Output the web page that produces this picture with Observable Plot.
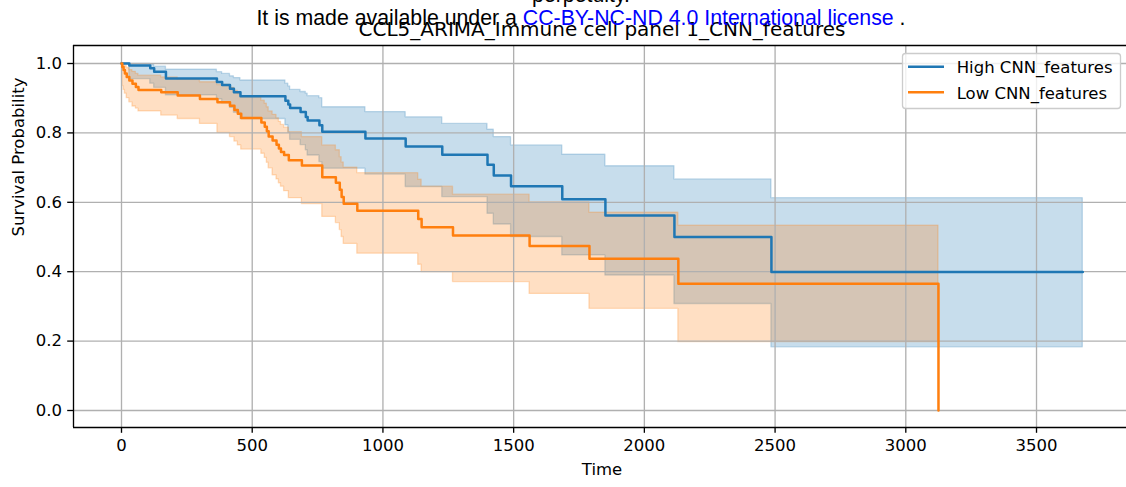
<!DOCTYPE html>
<html>
<head>
<meta charset="utf-8">
<script src="https://cdn.jsdelivr.net/npm/d3@7"></script>
<script src="https://cdn.jsdelivr.net/npm/@observablehq/plot@0.6"></script>
<style>
  body { margin: 0; background: #fff; }
  #wrap { position: relative; width: 1126px; height: 487px; overflow: hidden; background: #fff; }
  #wrap svg { display: block; }
  .wm { position: absolute; left: 0; width: 1162px; text-align: center; white-space: nowrap;
        font-family: "Liberation Sans", Arial, sans-serif; font-size: 21.3px; line-height: 1; color: #000; }
  .wm .lic { color: #0000ff; }
</style>
</head>
<body>
<div id="wrap">
  <div class="wm" style="top:-15px">perpetuity.</div>
  <div class="wm" style="top:8px">It is made available under a <span class="lic">CC-BY-NC-ND 4.0 International license</span> .</div>
</div>
<script>
// ---------- data ----------
const seriesNames = ["High CNN_features", "Low CNN_features"];
const seriesColors = ["#1f77b4", "#ff7f0e"];
const titleText = "CCL5_ARIMA_Immune cell panel 1_CNN_features";
const xLabel = "Time";
const yLabel = "Survival Probability";
const xTicks = [0, 500, 1000, 1500, 2000, 2500, 3000, 3500];
const yTicks = [0, 0.2, 0.4, 0.6, 0.8, 1.0];

const highTime  = [0, 30, 110, 125, 170, 365, 385, 415, 430, 455, 627, 638, 645, 685, 705, 712, 757, 768, 933, 1087, 1227, 1400, 1424, 1490, 1686, 1851, 2115, 2486, 3677];
const highSurv  = [1.0, 0.994, 0.986, 0.976, 0.957, 0.947, 0.938, 0.927, 0.917, 0.906, 0.893, 0.882, 0.872, 0.860, 0.846, 0.836, 0.822, 0.803, 0.784, 0.761, 0.737, 0.708, 0.677, 0.646, 0.609, 0.562, 0.500, 0.399, 0.399];
const highUpper = [1.0, 0.999, 0.997, 0.991, 0.982, 0.975, 0.970, 0.963, 0.958, 0.951, 0.942, 0.934, 0.924, 0.918, 0.913, 0.906, 0.900, 0.874, 0.860, 0.845, 0.826, 0.809, 0.788, 0.764, 0.737, 0.704, 0.666, 0.612, 0.612];
const highLower = [1.0, 0.955, 0.942, 0.930, 0.908, 0.897, 0.885, 0.872, 0.858, 0.840, 0.822, 0.800, 0.780, 0.765, 0.750, 0.735, 0.716, 0.697, 0.680, 0.644, 0.615, 0.567, 0.536, 0.500, 0.447, 0.389, 0.307, 0.182, 0.182];

const lowTime  = [0, 3, 8, 13, 20, 30, 42, 55, 65, 152, 215, 300, 367, 415, 432, 445, 458, 535, 548, 556, 563, 578, 593, 602, 610, 622, 640, 690, 768, 820, 835, 842, 850, 902, 1135, 1148, 1268, 1561, 1790, 2130, 3125];
const lowSurv  = [1.0, 0.990, 0.981, 0.971, 0.961, 0.951, 0.942, 0.932, 0.924, 0.917, 0.908, 0.898, 0.888, 0.878, 0.866, 0.855, 0.843, 0.830, 0.818, 0.805, 0.790, 0.778, 0.766, 0.755, 0.745, 0.736, 0.721, 0.706, 0.672, 0.656, 0.636, 0.615, 0.596, 0.576, 0.552, 0.528, 0.504, 0.474, 0.437, 0.365, 0.0];
const lowUpper = [1.0, 0.999, 0.996, 0.992, 0.987, 0.981, 0.976, 0.970, 0.965, 0.960, 0.953, 0.946, 0.938, 0.930, 0.921, 0.912, 0.903, 0.893, 0.884, 0.874, 0.862, 0.852, 0.842, 0.832, 0.823, 0.815, 0.802, 0.788, 0.764, 0.750, 0.730, 0.715, 0.700, 0.684, 0.665, 0.645, 0.622, 0.600, 0.570, 0.533, 0.533];
const lowLower = [1.0, 0.935, 0.924, 0.913, 0.900, 0.888, 0.876, 0.870, 0.862, 0.850, 0.840, 0.826, 0.800, 0.788, 0.775, 0.764, 0.752, 0.740, 0.728, 0.714, 0.698, 0.678, 0.666, 0.655, 0.645, 0.632, 0.612, 0.595, 0.558, 0.540, 0.520, 0.500, 0.480, 0.452, 0.420, 0.399, 0.370, 0.336, 0.293, 0.197, 0.197];

// ---------- tables ----------
const high = highTime.map((t, i) => ({t, s: highSurv[i], lo: highLower[i], hi: highUpper[i]}));
const low  = lowTime.map((t, i) => ({t, s: lowSurv[i], lo: lowLower[i], hi: lowUpper[i]}));

const xDomain = [-183.6, 3844.2];
const yDomain = [-0.049, 1.0519];
const font = "'DejaVu Sans', sans-serif";
const fs = 16.5;

const chart = Plot.plot({
  width: 1126, height: 487,
  marginLeft: 73, marginRight: 0, marginTop: 45, marginBottom: 60,
  x: {domain: xDomain},
  y: {domain: yDomain},
  style: {fontFamily: font, fontSize: fs + "px", background: "white", color: "black", overflow: "visible"},
  marks: [
    Plot.areaY(high, {x: "t", y1: "lo", y2: "hi", curve: "step-after", fill: seriesColors[0], fillOpacity: 0.25, stroke: seriesColors[0], strokeOpacity: 0.25, strokeWidth: 1.33}),
    Plot.areaY(low,  {x: "t", y1: "lo", y2: "hi", curve: "step-after", fill: seriesColors[1], fillOpacity: 0.25, stroke: seriesColors[1], strokeOpacity: 0.25, strokeWidth: 1.33}),
    Plot.gridX(xTicks, {stroke: "#b0b0b0", strokeOpacity: 1, strokeWidth: 1.33}),
    Plot.gridY(yTicks, {stroke: "#b0b0b0", strokeOpacity: 1, strokeWidth: 1.33}),
    Plot.line(high, {x: "t", y: "s", curve: "step-after", stroke: seriesColors[0], strokeWidth: 2.5}),
    Plot.line(low,  {x: "t", y: "s", curve: "step-after", stroke: seriesColors[1], strokeWidth: 2.5}),
    Plot.ruleX([xDomain[0]], {stroke: "black", strokeWidth: 1.33}),
    Plot.ruleY([yDomain[0], yDomain[1]], {stroke: "black", strokeWidth: 1.33}),
    Plot.axisX(xTicks, {tickSize: 5.8, tickPadding: 5.8, strokeWidth: 1.33, label: null, fontSize: fs, tickFormat: d => String(d)}),
    Plot.axisY(yTicks, {tickSize: 5.8, tickPadding: 5.8, strokeWidth: 1.33, label: null, fontSize: fs, tickFormat: d3.format(".1f")}),
    Plot.text([xLabel], {text: d => d, frameAnchor: "bottom", dx: 2, dy: 42, lineAnchor: "middle", fontSize: fs}),
    Plot.text([yLabel], {text: d => d, frameAnchor: "left", rotate: -90, dx: -54.7, lineAnchor: "middle", fontSize: fs}),
    Plot.text([titleText], {text: d => d, frameAnchor: "top", dx: 2, dy: -16.4, lineAnchor: "middle", fontSize: 20})
  ]
});

// legend
const svg = d3.select(chart);
const lg = svg.append("g").attr("font-family", font).attr("font-size", fs);
lg.append("rect").attr("x", 902.5).attr("y", 53.5).attr("width", 218).attr("height", 55).attr("rx", 3)
  .attr("fill", "white").attr("fill-opacity", 0.8).attr("stroke", "#cccccc").attr("stroke-width", 1.33);
seriesNames.forEach((name, i) => {
  const cy = 66.7 + i * 25.6;
  lg.append("line").attr("x1", 908).attr("x2", 944).attr("y1", cy).attr("y2", cy)
    .attr("stroke", seriesColors[i]).attr("stroke-width", 2.5);
  lg.append("text").attr("x", 956.7).attr("y", cy + 6.6).attr("text-anchor", "start").attr("fill", "black").text(name);
});

document.getElementById("wrap").prepend(chart);
</script>
</body>
</html>
